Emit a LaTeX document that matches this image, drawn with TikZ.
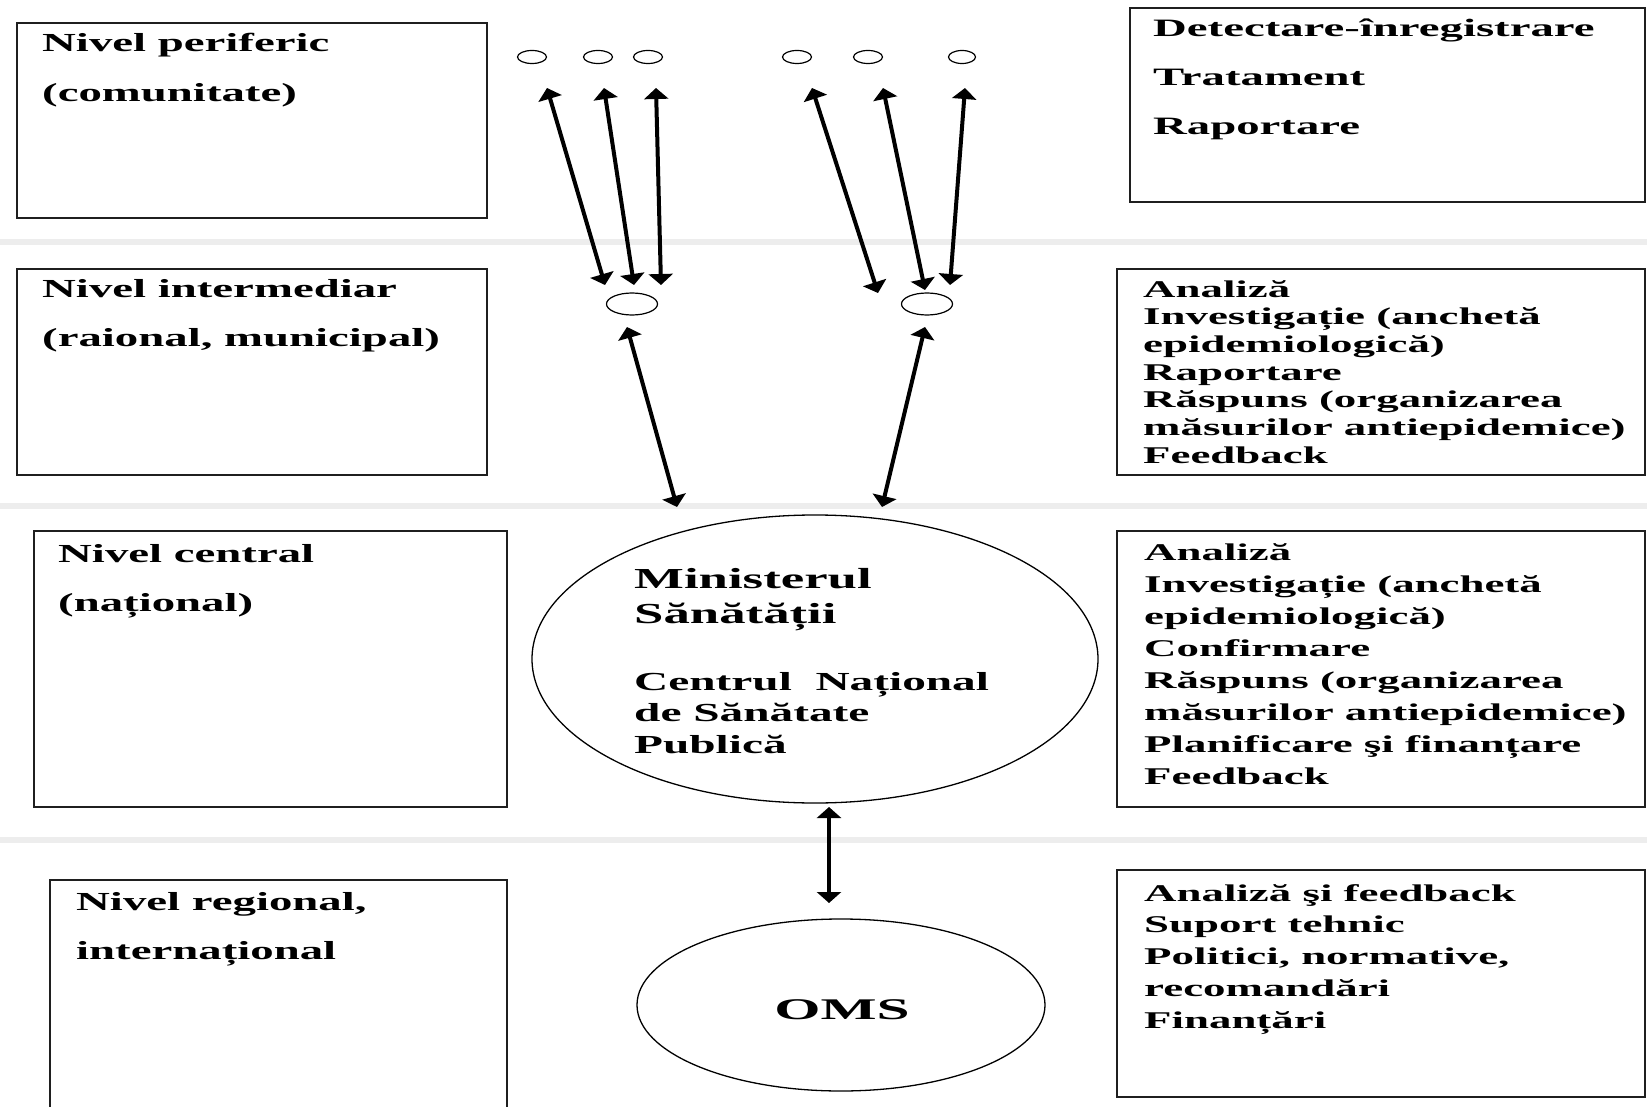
\documentclass[tikz,border=0pt]{standalone}
\usepackage{fontspec}
\setmainfont{Liberation Serif}[FakeStretch=1.85]
\newfontfamily\fontLeft{Liberation Serif}[FakeStretch=1.80]
\newfontfamily\fontRight{Liberation Serif}[FakeStretch=1.87]
\newfontfamily\fontMid{Liberation Serif}[FakeStretch=1.82]
\newfontfamily\fontOms{Liberation Serif}[FakeStretch=1.98]
\usetikzlibrary{arrows.meta,shapes.geometric}
\begin{document}
\begin{tikzpicture}[x=1pt,y=-1pt,
  box/.style={draw=black!88,line width=2.4pt,inner sep=0pt,outer sep=0pt},
  sepline/.style={draw=black!7,line width=6pt},
  ell/.style={draw,ellipse,line width=1.3pt,inner sep=0pt},
  dot/.style={draw,ellipse,line width=1.2pt,inner sep=0pt,minimum width=29pt,minimum height=13pt},
  hub/.style={draw,ellipse,line width=1.2pt,inner sep=0pt,minimum width=51pt,minimum height=22pt},
  arr/.style={line width=4pt,>={Triangle[length=11pt,width=24pt]},<->},
  lt/.style={anchor=base west,inner sep=0pt,align=left,font=\fontLeft\bfseries\fontsize{26}{49.5}\selectfont},
  rt/.style={anchor=base west,inner sep=0pt,align=left,font=\fontRight\bfseries\fontsize{24}{#1}\selectfont},
]
\useasboundingbox (0,0) rectangle (1647,1107);
\clip (0,0) rectangle (1647,1107);
\fill[white] (0,0) rectangle (1647,1107);

% separators
\draw[sepline] (0,242) -- (1647,242);
\draw[sepline] (0,506) -- (1647,506);
\draw[sepline] (0,840) -- (1647,840);

% boxes
\node[box,minimum width=470pt,minimum height=195pt] (L1) at (252,120.5) {};
\node[box,minimum width=515pt,minimum height=194pt] (R1) at (1387.5,105) {};
\node[box,minimum width=470pt,minimum height=206pt] (L2) at (252,372) {};
\node[box,minimum width=528pt,minimum height=206pt] (R2) at (1381,372) {};
\node[box,minimum width=473pt,minimum height=276pt] (L3) at (270.5,669) {};
\node[box,minimum width=528pt,minimum height=276pt] (R3) at (1381,669) {};
\node[box,minimum width=457pt,minimum height=240pt] (L4) at (278.5,1000) {};
\node[box,minimum width=528pt,minimum height=227pt] (R4) at (1381,983.5) {};

% left texts (anchor = baseline of the last line)
\node[lt] (tL1) at (42,101.5) {Nivel periferic\\(comunitate)};
\node[lt] (tL2) at (42,346.5) {Nivel intermediar\\(raional, municipal)};
\node[lt] (tL3) at (58,611.5) {Nivel central\\(național)};
\node[lt] (tL4) at (76,959.5) {Nivel regional,\\internațional};

% right texts (anchor = baseline of the last line)
\node[anchor=base west,inner sep=0pt,align=left,font=\fontRight\bfseries\fontsize{25}{49}\selectfont] (tR1) at (1153,135)
  {Detectare-înregistrare\\Tratament\\Raportare};
\node[rt=27.7] (tR2) at (1143,463.2)
  {Analiză\\Investigație (anchetă\\epidemiologică)\\Raportare\\Răspuns (organizarea\\măsurilor antiepidemice)\\Feedback};
\node[rt=32] (tR3) at (1144,784)
  {Analiză\\Investigație (anchetă\\epidemiologică)\\Confirmare\\Răspuns (organizarea\\măsurilor antiepidemice)\\Planificare şi finanțare\\Feedback};
\node[rt=31.8] (tR4) at (1144,1028.2)
  {Analiză şi feedback\\Suport tehnic\\Politici, normative,\\recomandări\\Finanțări};

% ellipses
\node[ell,minimum width=566pt,minimum height=288pt] (min) at (815,659) {};
\node[anchor=base west,inner sep=0pt,align=left,font=\fontMid\bfseries\fontsize{29}{35}\selectfont] (tMin1) at (634,623)
  {Ministerul\\Sănătății};
\node[anchor=base west,inner sep=0pt,align=left,font=\fontMid\bfseries\fontsize{26}{31.5}\selectfont] (tMin2) at (634,753)
  {Centrul~ Național\\de Sănătate\\Publică};
\node[ell,minimum width=408pt,minimum height=172pt] (oms) at (841,1005) {};
\node[anchor=base,inner sep=0pt,font=\fontOms\bfseries\fontsize{30}{34}\selectfont] (tOms) at (842,1019) {OMS};

% small ellipses
\node[dot] (e1) at (532,57) {};
\node[dot] (e2) at (598,57) {};
\node[dot] (e3) at (648,57) {};
\node[dot] (e4) at (797,57) {};
\node[dot] (e5) at (868,57) {};
\node[dot,minimum width=27pt] (e6) at (962,57) {};
\node[hub] (e7) at (632,304) {};
\node[hub] (e8) at (927,304) {};

% arrows
\draw[arr] ([shift={(15,31)}]e1.center) -- ([shift={(-27,-19)}]e7.center);
\draw[arr] ([shift={(6,31)}]e2.center) -- ([shift={(2,-19)}]e7.center);
\draw[arr] ([shift={(8,31)}]e3.center) -- ([shift={(29,-19)}]e7.center);
\draw[arr] ([shift={(15,31)}]e4.center) -- ([shift={(-49,-11)}]e8.center);
\draw[arr] ([shift={(15,31)}]e5.center) -- ([shift={(-2,-14)}]e8.center);
\draw[arr] ([shift={(3,31)}]e6.center) -- ([shift={(23,-19)}]e8.center);
\draw[arr] ([shift={(-5,23)}]e7.center) -- ([shift={(-138,-152)}]min.center);
\draw[arr] ([shift={(-2,23)}]e8.center) -- ([shift={(67,-152)}]min.center);
\draw[arr] ([shift={(14,148)}]min.center) -- ([shift={(-12,-102)}]oms.center);
\end{tikzpicture}
\end{document}
